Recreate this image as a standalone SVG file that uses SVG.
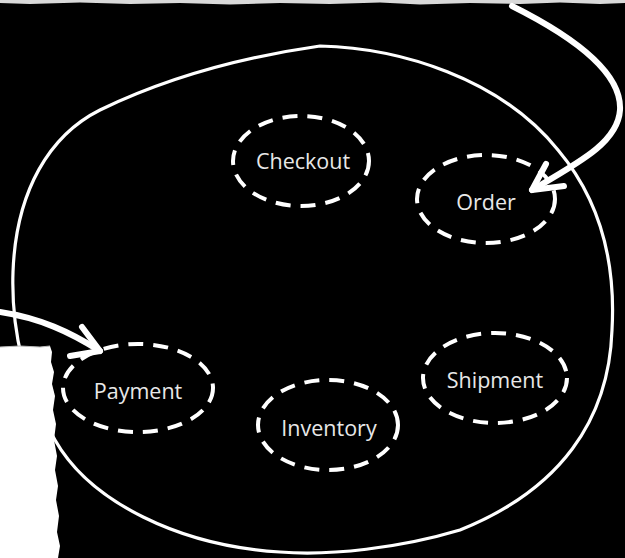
<svg xmlns="http://www.w3.org/2000/svg" width="625" height="558" viewBox="0 0 625 558">
  <style>
    .bg { fill: #000000; }
    .paper { fill: #ffffff; }
    .boundary { fill: none; stroke: #ffffff; stroke-width: 3.2; stroke-linecap: round; stroke-linejoin: round; }
    .node ellipse { fill: none; stroke: #ffffff; stroke-width: 4; stroke-dasharray: 15 10; }
    .node text { font-family: "Open Sans", "Noto Sans", "DejaVu Sans", sans-serif; font-size: 21.5px; fill: #e8e8e8; text-anchor: middle; dominant-baseline: central; }
    .conn { fill: none; stroke: #ffffff; stroke-width: 6; stroke-linecap: round; stroke-linejoin: round; }
  </style>

  <rect class="bg" x="0" y="0" width="625" height="558"/>

  <!-- torn strip along the top edge -->
  <path fill="#d9d9d9" d="M0,0 H625 V3 L600,4 L560,2.5 L520,4 L470,3 L420,4.5 L380,2.5 L330,4 L280,3 L230,4.5 L180,3 L130,4 L80,2.5 L30,4 L0,3 Z"/>

  <!-- hand-drawn system boundary -->
  <path class="boundary" d="M320,46 C400,48 500,78 558,150 C600,200 616,260 612,330 C609,420 560,490 460,530 C400,548 330,556 280,552 C180,546 90,502 55,440 C25,390 11,330 13,272 C16,190 50,135 100,110 C170,76 250,56 320,46 Z"/>

  <!-- connectors -->
  <g id="connectors">
    <path class="conn" d="M512,6 C580,40 622,75 620,110 C618,142 580,162 532,190"/>
    <path class="conn" d="M546,164 L532,190 L564,186"/>
    <path class="conn" d="M0,312 C40,318 70,332 100,351"/>
    <path class="conn" d="M82,327 L100,351 L70,356"/>
  </g>

  <!-- nodes -->
  <g id="checkout" class="node">
    <ellipse cx="301" cy="161" rx="68" ry="45"/>
    <text x="303" y="160">Checkout</text>
  </g>
  <g id="order" class="node">
    <ellipse cx="486" cy="199" rx="69" ry="44"/>
    <text x="486" y="201">Order</text>
  </g>
  <g id="payment" class="node">
    <ellipse cx="138" cy="388" rx="75" ry="44"/>
    <text x="138" y="390">Payment</text>
  </g>
  <g id="inventory" class="node">
    <ellipse cx="328" cy="425" rx="70" ry="45"/>
    <text x="329" y="427">Inventory</text>
  </g>
  <g id="shipment" class="node">
    <ellipse cx="495" cy="378" rx="72" ry="45"/>
    <text x="495" y="379">Shipment</text>
  </g>

  <!-- torn paper scrap, lower left -->
  <path class="paper" d="M0,347 L20,346 L40,347 L50,346 L52,352 L51,362 L54,372 L52,384 L55,396 L53,410 L56,424 L54,440 L57,456 L55,470 L58,486 L56,500 L59,516 L57,532 L60,546 L58,558 L0,558 Z"/>
  <path fill="none" stroke="#bbbbbb" stroke-width="1" d="M0,347 L20,346 L40,347 L50,346"/>
</svg>
